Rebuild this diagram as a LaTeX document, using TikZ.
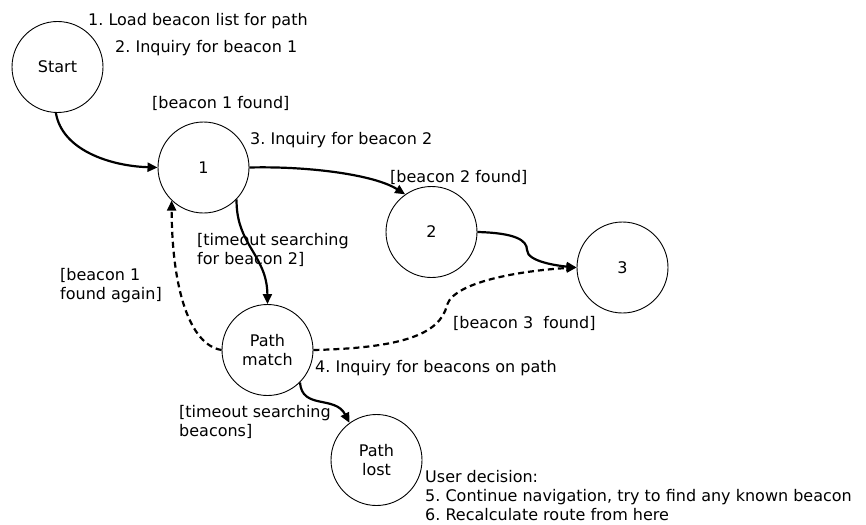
\documentclass[tikz,border=0pt]{standalone}
\usepackage{fontspec}
\setmainfont{DejaVu Sans}
\usetikzlibrary{arrows.meta}
\frenchspacing
\begin{document}
\begin{tikzpicture}[x=1pt,y=-1pt,
  state/.style={circle,draw,line width=0.9pt,minimum size=91pt,inner sep=0pt,align=center,font=\fontsize{16}{19}\selectfont},
  lbl/.style={anchor=west,inner sep=0pt,align=left,font=\fontsize{16}{19}\selectfont},
  tr/.style={line width=2.2pt,-{Triangle[length=10pt,width=9pt]}},
  trd/.style={tr,dash pattern=on 6pt off 4pt}]
\useasboundingbox (0,0) rectangle (866,524);
\node[state] (start) at (57.5,67) {Start};
\node[state] (n1) at (203.5,167.5) {1};
\node[state] (n2) at (431.5,232) {2};
\node[state] (n3) at (622.5,267.5) {3};
\node[state] (pm) at (267.5,350) {Path\\match};
\node[state] (pl) at (376.5,460) {Path\\lost};

\node[lbl] (t1) at (88,21) {1. Load beacon list for path};
\node[lbl] (t2) at (115,48) {2. Inquiry for beacon 1};
\node[lbl] (t3) at (152,103) {[beacon 1 found]};
\node[lbl] (t4) at (250,140) {3. Inquiry for beacon 2};
\node[lbl] (t5) at (390,177) {[beacon 2 found]};
\node[lbl] (t6) at (197,250) {[timeout searching\\for beacon 2]};
\node[lbl] (t7) at (60,286) {[beacon 1\\found again]};
\node[lbl] (t8) at (453,323) {[beacon 3\ \ found]};
\node[lbl] (t9) at (315,368) {4. Inquiry for beacons on path};
\node[lbl] (t10) at (179,422) {[timeout searching\\beacons]};
\node[lbl] (t11) at (425,496) {User decision:\\5. Continue navigation, try to find any known beacon\\6. Recalculate route from here};

\draw[tr] (start.268) .. controls (62,150) and (110,166) .. (n1.west);
\draw[tr] (n1.east) .. controls (310,166) and (375,175) .. (n2.125);
\draw[tr] (n2.east) .. controls (515,233) and (527,240) .. (527,250) .. controls (527,262) and (560,266) .. (n3.west);
\draw[tr] (n1.-44) .. controls (236,245) and (267,255) .. (pm.north);
\draw[trd] (pm.west) .. controls (190,345) and (172,290) .. (n1.226);
\draw[trd] (pm.east) .. controls (400,348) and (440,335) .. (447,305) .. controls (455,280) and (530,270) .. (n3.west);
\draw[tr] (pm.-45) .. controls (302,410) and (335,395) .. (pl.126);
\end{tikzpicture}
\end{document}
